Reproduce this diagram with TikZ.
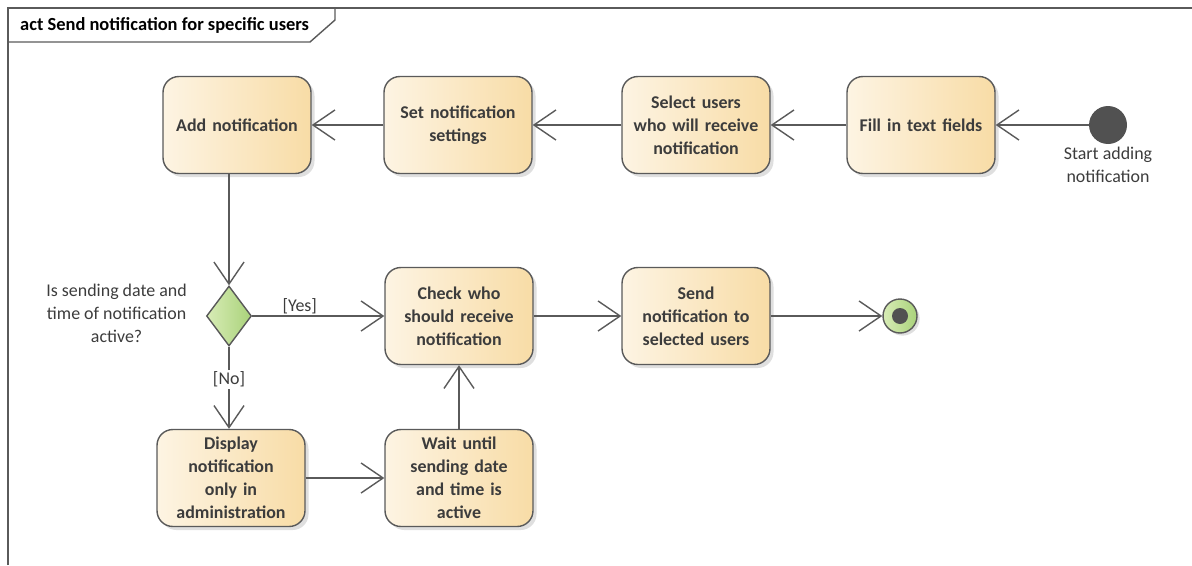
\documentclass[tikz,border=0pt]{standalone}
\usepackage{fontspec}
\setmainfont{Carlito}
\usetikzlibrary{positioning,arrows.meta,shapes.geometric,shadows}

\definecolor{edgegray}{HTML}{5A5A5A}
\definecolor{txtgray}{HTML}{3C3C3C}
\definecolor{actleft}{HTML}{FDF4E3}
\definecolor{actright}{HTML}{F8DCA6}
\definecolor{decleft}{HTML}{D8ECB6}
\definecolor{decright}{HTML}{A9D27A}

\begin{document}
\begin{tikzpicture}[x=0.02cm, y=-0.02cm,
  action/.style={draw=edgegray, rounded corners=9pt, line width=0.8pt,
    minimum width=2.96cm, minimum height=1.94cm, align=center,
    text width=2.7cm, font=\fontsize{10.2}{13}\selectfont\bfseries,
    text=txtgray, left color=actleft, right color=actright,
    drop shadow={shadow xshift=2pt, shadow yshift=-2pt, opacity=0.25}},
  decision/.style={diamond, draw=edgegray, line width=0.8pt,
    minimum width=0.9cm, minimum height=1.2cm, inner sep=0pt,
    aspect=0.75, left color=decleft, right color=decright},
  arr/.style={-{Straight Barb[length=4.4mm, width=6mm]}, draw=edgegray,
    line width=0.8pt},
  note/.style={font=\fontsize{10.2}{13}\selectfont, text=txtgray, align=center}
]
\useasboundingbox (0,0) rectangle (1192,565);

% frame
\draw[edgegray, line width=0.8pt] (8,565) -- (8,8) -- (1192,8);
\draw[edgegray, line width=0.8pt] (8,42) -- (310,42) -- (335,20) -- (335,8);
\node[anchor=west, font=\fontsize{10.5}{13}\selectfont\bfseries, text=black]
  (title) at (14,25) {act Send notification for specific users};

% initial and final nodes
\node[circle, fill=edgegray!90!black, minimum size=0.76cm, inner sep=0pt] (start) at (1108,125) {};
\node[note, below=-2pt of start] (startlbl) {Start adding\\notification};
\node[circle, draw=edgegray, line width=0.8pt, minimum size=0.68cm, inner sep=0pt,
  left color=decleft, right color=decright,
  drop shadow={shadow xshift=1.5pt, shadow yshift=-1.5pt, opacity=0.25}] (final) at (900,316) {};
\node[circle, fill=edgegray!90!black, minimum size=0.32cm, inner sep=0pt] (finaldot) at (final) {};

% actions
\node[action] (fill) at (921,125) {Fill in text fields};
\node[action] (select) at (696,125) {Select users\\who will receive\\notification};
\node[action] (settings) at (458,125) {Set notification\\settings};
\node[action] (add) at (237,125) {Add notification};
\node[decision] (dec) at (229,316) {};
\node[note, anchor=east] (question) at (193,313) {Is sending date and\\time of notification\\active?};
\node[action] (check) at (459,316) {Check who\\should receive\\notification};
\node[action] (send) at (696,316) {Send\\notification to\\selected users};
\node[action] (display) at (231,478) {Display\\notification\\only in\\administration};
\node[action] (wait) at (459,478) {Wait until\\sending date\\and time is\\active};

% flows
\draw[arr] (start) -- (fill);
\draw[arr] (fill) -- (select);
\draw[arr] (select) -- (settings);
\draw[arr] (settings) -- (add);
\draw[arr] (add.south -| dec.north) -- (dec.north);
\draw[arr] (dec.east) -- node[note, above, pos=0.36, inner sep=1pt] (yes) {[Yes]} (check.west |- dec.east);
\draw[arr] (dec.south) -- node[note, fill=white, inner sep=1pt, pos=0.4] (no) {[No]} (display.north -| dec.south);
\draw[arr] (display) -- (wait);
\draw[arr] (wait) -- (check);
\draw[arr] (check) -- (send);
\draw[arr] (send) -- (final);
\end{tikzpicture}
\end{document}
